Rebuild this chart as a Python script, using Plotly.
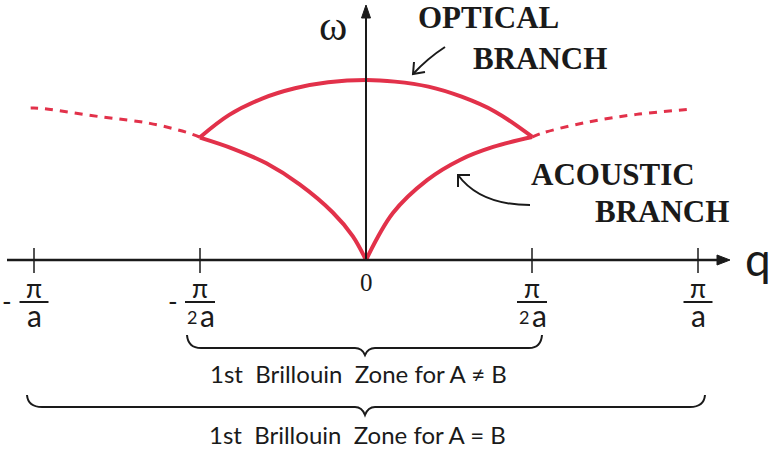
import plotly.graph_objects as go

# Phonon dispersion of a diatomic chain; q in units of pi/a, omega scaled to the optical maximum
optical_q = [-0.5, -0.412, -0.311, -0.214, -0.114, 0.0, 0.087, 0.188, 0.288, 0.389, 0.5]
optical_w = [0.682, 0.806, 0.898, 0.954, 0.987, 1.0, 0.991, 0.963, 0.907, 0.824, 0.685]

acoustic_left_q = [-0.5, -0.4, -0.3, -0.2, -0.1, -0.04, 0.0]
acoustic_left_w = [0.680, 0.618, 0.537, 0.420, 0.264, 0.133, 0.0]
acoustic_right_q = [0.0, 0.081, 0.184, 0.283, 0.383, 0.5]
acoustic_right_w = [0.0, 0.261, 0.444, 0.556, 0.628, 0.683]

# Extended-zone continuation of the acoustic branch (A = B)
ext_left_q = [-0.5, -0.540, -0.651, -0.801, -0.982, -1.01]
ext_left_w = [0.682, 0.709, 0.759, 0.796, 0.843, 0.844]
ext_right_q = [0.5, 0.534, 0.665, 0.815, 0.986]
ext_right_w = [0.683, 0.707, 0.765, 0.809, 0.839]

# q-axis ticks drawn as fractions
tick_q = [-1.0, -0.5, 0.5, 1.0]
tick_sign = ["-", "-", "", ""]
tick_num = ["π", "π", "π", "π"]
tick_den_factor = ["", "2", "2", ""]
tick_den = ["a", "a", "a", "a"]

zone_labels = ["1st\u00a0\u00a0Brillouin\u00a0\u00a0Zone for A \u2260 B",
               "1st\u00a0\u00a0Brillouin\u00a0\u00a0Zone for A = B"]

W, H = 772, 452
X0, QPX = 366, 332      # pixel column of q = 0, pixels per unit of q
Y0, WPX = 260, 180      # pixel row of omega = 0, pixels per unit of omega


def qv(px):
    return (px - X0) / QPX


def wv(py):
    return (Y0 - py) / WPX


def path(*cmds):
    out = []
    for c in cmds:
        if isinstance(c, str):
            out.append(c)
        else:
            out.append(f"{qv(c[0]):.5f},{wv(c[1]):.5f}")
    return " ".join(out)


RED = "#E2314A"
INK = "#1a1a1a"
SANS = "Lato, sans-serif"
SERIF = "Liberation Serif, DejaVu Serif, serif"

fig = go.Figure()

branch_line = dict(color=RED, width=4, shape="spline", smoothing=1.0)
fig.add_trace(go.Scatter(x=optical_q, y=optical_w, mode="lines", line=branch_line, hoverinfo="skip"))
fig.add_trace(go.Scatter(x=acoustic_left_q, y=acoustic_left_w, mode="lines", line=branch_line, hoverinfo="skip"))
fig.add_trace(go.Scatter(x=acoustic_right_q, y=acoustic_right_w, mode="lines", line=branch_line, hoverinfo="skip"))
dashed = dict(color=RED, width=3, dash="8px,7px", shape="spline", smoothing=1.0)
fig.add_trace(go.Scatter(x=ext_left_q, y=ext_left_w, mode="lines", line=dashed, hoverinfo="skip"))
fig.add_trace(go.Scatter(x=ext_right_q, y=ext_right_w, mode="lines", line=dashed, hoverinfo="skip"))

shapes = []
# q axis with arrow
shapes.append(dict(type="line", x0=qv(7), x1=qv(719), y0=0, y1=0, line=dict(color=INK, width=2.5)))
shapes.append(dict(type="path", path=path("M", (717, 255), "L", (730, 260), "L", (717, 265), "Z"),
                   fillcolor=INK, line=dict(color=INK, width=1)))
# omega axis with arrow
shapes.append(dict(type="line", x0=0, x1=0, y0=0, y1=wv(16), line=dict(color=INK, width=2)))
shapes.append(dict(type="path", path=path("M", (361.5, 18), "L", (366, 5), "L", (370.5, 18), "Z"),
                   fillcolor=INK, line=dict(color=INK, width=1)))
# tick marks and fraction bars
for q, f in zip(tick_q, tick_den_factor):
    shapes.append(dict(type="line", x0=q, x1=q, y0=wv(248), y1=wv(273), line=dict(color=INK, width=1.5)))
    half = 15 if f else 14.5
    cx = X0 + q * QPX
    shapes.append(dict(type="line", x0=qv(cx - half), x1=qv(cx + half), y0=wv(302), y1=wv(302),
                       line=dict(color=INK, width=2)))

# braces marking the zones
brace = dict(color=INK, width=2)
shapes.append(dict(type="path", line=brace, path=path(
    "M", (187, 335), "Q", (188, 348), (201, 348), "L", (355, 348), "Q", (362, 348), (365, 355),
    "Q", (368, 348), (375, 348), "L", (529, 348), "Q", (541, 348), (542, 335))))
shapes.append(dict(type="path", line=brace, path=path(
    "M", (27, 395), "Q", (28, 407), (42, 407), "L", (355, 407), "Q", (362, 407), (365, 415),
    "Q", (368, 407), (375, 407), "L", (690, 407), "Q", (704, 407), (705, 395))))

# pointer arrows for the branch labels
arrow = dict(color=INK, width=2)
shapes.append(dict(type="path", line=arrow, path=path("M", (445, 47), "Q", (428, 58), (413, 74))))
shapes.append(dict(type="path", line=arrow, path=path("M", (414, 62), "L", (413, 74), "L", (425, 72))))
shapes.append(dict(type="path", line=arrow, path=path("M", (530, 205), "Q", (480, 205), (458, 175))))
shapes.append(dict(type="path", line=arrow, path=path("M", (470, 175), "L", (458, 175), "L", (458, 187))))

ann = []
for q, s, n, f, d in zip(tick_q, tick_sign, tick_num, tick_den_factor, tick_den):
    base = dict(x=q, y=0, xref="x", yref="y", showarrow=False, xanchor="center", yanchor="middle")
    ann.append(dict(base, text=n, yshift=-28, font=dict(family=SANS, size=26, color=INK)))
    if f:
        ann.append(dict(base, text=f, xshift=-8, yshift=-57, font=dict(family=SANS, size=18, color=INK)))
        ann.append(dict(base, text=d, xshift=7, yshift=-55, font=dict(family=SANS, size=30, color=INK)))
    else:
        ann.append(dict(base, text=d, yshift=-55, font=dict(family=SANS, size=30, color=INK)))
    if s:
        ann.append(dict(base, text=s, xshift=-27, yshift=-41, font=dict(family=SANS, size=26, color=INK)))

ann.append(dict(x=0, y=0, xref="x", yref="y", text="0", showarrow=False, yshift=-22,
                font=dict(family=SERIF, size=25, color=INK)))
ann.append(dict(x=qv(743), y=0, xref="x", yref="y", text="q", showarrow=False, xanchor="left",
                yshift=2, font=dict(family=SANS, size=46, color=INK)))
ann.append(dict(x=qv(333), y=wv(25), xref="x", yref="y", text="ω", showarrow=False,
                font=dict(family=SERIF, size=43, color=INK)))

bold = dict(family=SERIF, size=31, color=INK, weight="bold")
ann.append(dict(x=qv(488), y=wv(17), xref="x", yref="y", text="OPTICAL", showarrow=False, font=bold))
ann.append(dict(x=qv(540), y=wv(58), xref="x", yref="y", text="BRANCH", showarrow=False, font=bold))
ann.append(dict(x=qv(613), y=wv(174), xref="x", yref="y", text="ACOUSTIC", showarrow=False, font=bold))
ann.append(dict(x=qv(662), y=wv(211), xref="x", yref="y", text="BRANCH", showarrow=False, font=bold))

ann.append(dict(x=qv(358), y=wv(373), xref="x", yref="y", text=zone_labels[0], showarrow=False,
                font=dict(family=SANS, size=24, color=INK)))
ann.append(dict(x=qv(357), y=wv(434), xref="x", yref="y", text=zone_labels[1], showarrow=False,
                font=dict(family=SANS, size=24, color=INK)))

fig.update_layout(
    width=W, height=H, margin=dict(l=0, r=0, t=0, b=0),
    paper_bgcolor="white", plot_bgcolor="white", showlegend=False,
    xaxis=dict(range=[qv(0), qv(W)], visible=False, fixedrange=True),
    yaxis=dict(range=[wv(H), wv(0)], visible=False, fixedrange=True),
    shapes=shapes, annotations=ann,
)

fig.write_html("out.html")
